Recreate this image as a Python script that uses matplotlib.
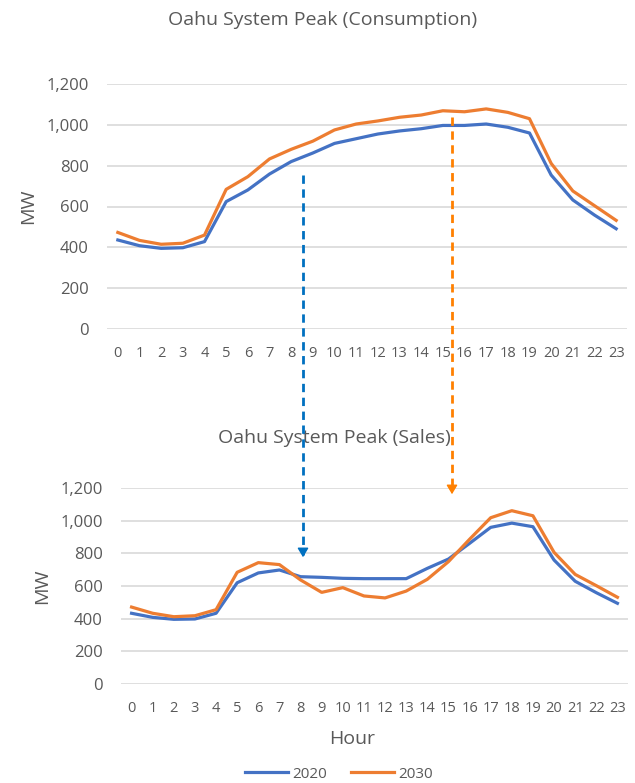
import matplotlib
matplotlib.use("Agg")
import matplotlib.pyplot as plt
from matplotlib.lines import Line2D
from matplotlib.patches import FancyArrowPatch
from matplotlib.ticker import FuncFormatter

plt.rcParams['font.family'] = ['Open Sans', 'DejaVu Sans']

hours = list(range(24))
hour_labels = [str(h) for h in hours]

# Oahu system peak, consumption basis (MW)
cons_2020 = [436, 408, 395, 398, 428, 624, 681, 759, 820, 862, 909, 932,
             955, 970, 981, 997, 997, 1004, 988, 960, 754, 632, 558, 491]
cons_2030 = [473, 434, 415, 420, 460, 684, 746, 833, 880, 920, 975, 1004,
             1019, 1037, 1048, 1069, 1064, 1078, 1061, 1030, 811, 676, 604, 532]

# Oahu system peak, sales basis (MW)
sales_2020 = [433, 408, 396, 398, 433, 620, 680, 698, 657, 653, 647, 645,
              645, 645, 708, 765, 861, 959, 985, 963, 759, 629, 559, 494]
sales_2030 = [471, 433, 412, 418, 455, 684, 743, 731, 637, 561, 590, 539,
              527, 569, 641, 749, 886, 1018, 1061, 1030, 806, 671, 602, 531]

BLUE = '#4472C4'
ORANGE = '#ED7D31'
GREY = '#595959'
GRID = '#D9D9D9'

W, H = 635, 783
fig = plt.figure(figsize=(W / 100, H / 100), dpi=100)

def px(x0, y0, x1, y1):
    return [x0 / W, 1 - y1 / H, (x1 - x0) / W, (y1 - y0) / H]

ax1 = fig.add_axes(px(107, 84, 627, 329))
ax2 = fig.add_axes(px(121, 488, 628, 684))

def style(ax, s20, s30, lab_x, lab_y):
    ax.plot(hours, s20, color=BLUE, lw=2.3, solid_joinstyle='round', zorder=3)
    ax.plot(hours, s30, color=ORANGE, lw=2.3, solid_joinstyle='round', zorder=3)
    ax.set_xlim(-0.5, 23.5)
    ax.set_ylim(0, 1200)
    ax.set_yticks(range(0, 1201, 200))
    ax.yaxis.set_major_formatter(FuncFormatter(lambda v, p: f'{int(v):,}'))
    ax.set_xticks(hours)
    ax.set_xticklabels(hour_labels)
    ax.grid(axis='y', color=GRID, lw=1.2)
    ax.set_axisbelow(True)
    for s in ax.spines.values():
        s.set_visible(False)
    ax.tick_params(axis='y', length=0, pad=13, labelsize=12, labelcolor=GREY)
    ax.tick_params(axis='x', length=0, pad=12, labelsize=10.5, labelcolor=GREY)
    ax.set_ylabel('MW', fontsize=14, color=GREY)
    ax.yaxis.set_label_coords(lab_x, lab_y)

style(ax1, cons_2020, cons_2030, -0.135, 0.5)
style(ax2, sales_2020, sales_2030, -0.138, 0.5)

ax2.set_xlabel('Hour', fontsize=14, color=GREY)
ax2.xaxis.set_label_coords(0.456, -0.235)

fig.text(323 / W, 1 - 20 / H, 'Oahu System Peak (Consumption)', ha='center',
         va='center', fontsize=14, color=GREY)
fig.text(334 / W, 1 - 438 / H, 'Oahu System Peak (Sales)', ha='center',
         va='center', fontsize=14, color=GREY)

# dashed arrows linking the two charts (pixel positions)
arrows = [(303, 175, 560, '#0070C0'), (452, 117, 497, '#FF8000')]
for x, y0, y1, c in arrows:
    fig.add_artist(Line2D([x / W, x / W], [1 - y0 / H, 1 - (y1 - 5) / H],
                          transform=fig.transFigure, color=c, lw=2,
                          dashes=(3, 2), zorder=5))
    fig.add_artist(FancyArrowPatch((x / W, 1 - (y1 - 10) / H), (x / W, 1 - y1 / H),
                                   transform=fig.transFigure, color=c,
                                   arrowstyle='-|>,head_length=0.5,head_width=0.3',
                                   mutation_scale=11, lw=1, zorder=5))

handles = [Line2D([], [], color=BLUE, lw=2.3), Line2D([], [], color=ORANGE, lw=2.3)]
fig.legend(handles, ['2020', '2030'], loc='center', bbox_to_anchor=(339 / W, 1 - 774 / H),
           ncol=2, frameon=False, fontsize=11, labelcolor=GREY, handlelength=2.8,
           handletextpad=0.3, columnspacing=1.6)

fig.savefig('out.png', dpi=100)
